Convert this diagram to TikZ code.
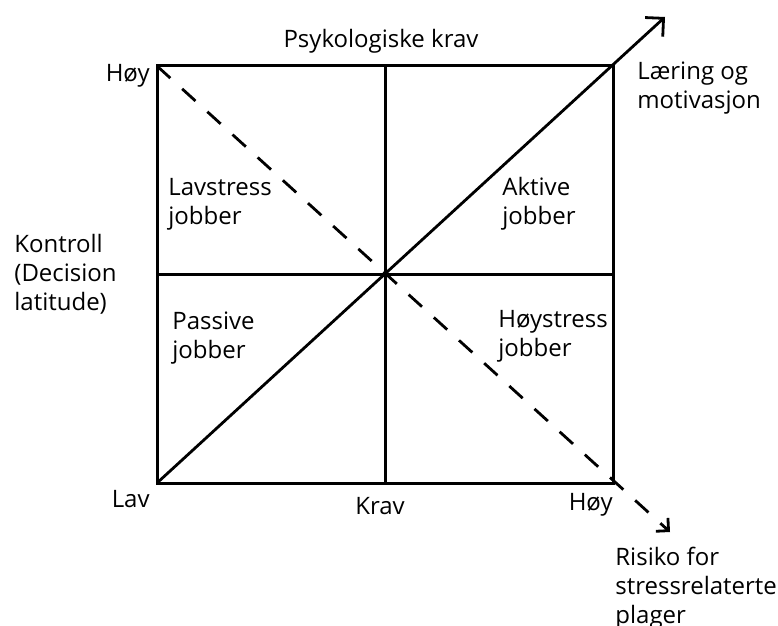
\documentclass[tikz,border=0pt]{standalone}
\usepackage{fontspec}
\setmainfont{Open Sans}
\usetikzlibrary{arrows.meta, positioning}
\tikzset{
    axis/.style={line width=1.5pt},
    trend/.style={line width=1.4pt, -{Straight Barb[length=6.5pt, width=13pt, line width=1.4pt]}},
    risk/.style={line width=1.4pt, dash pattern=on 9pt off 8pt, -{Straight Barb[length=4.5pt, width=9pt, line width=1.4pt]}},
    txt/.style={font=\fontsize{12}{14.5}\selectfont, inner sep=0pt},
    quadrant/.style={txt, align=left, anchor=base west}
}
\begin{document}
\begin{tikzpicture}[x=0.5pt, y=-0.5pt]
    \useasboundingbox (0,0) rectangle (778,626);
    % Square
    \coordinate (tl) at (157,66);
    \coordinate (tr) at (613,66);
    \coordinate (bl) at (157,483);
    \coordinate (br) at (613,483);
    \coordinate (mid) at (385,274.5);
    \draw [axis] (tl) rectangle (br);
    \draw [axis] (tl |- mid) -- (tr |- mid);
    \draw [axis] (mid |- tl) -- (mid |- bl);
    % Diagonals
    \coordinate (learnend) at (665,17);
    \coordinate (riskend) at (670,532);
    \draw [trend] (bl) -- (learnend);
    \draw [risk] (tl) -- (riskend);
    % Axis labels (multi-line nodes sit on their last line)
    \node (psyk) [txt, anchor=base] at (381,48) {Psykologiske krav};
    \node (hoyleft) [txt, anchor=base east] at (150,82) {Høy};
    \node (lav) [txt, anchor=base east] at (150,508) {Lav};
    \node (krav) [txt, anchor=base] at (380,515) {Krav};
    \node (hoyright) [txt, anchor=base east] at (613,510) {Høy};
    \node (kontroll) [quadrant] at (14,311) {Kontroll\\(Decision\\latitude)};
    \node (learn) [quadrant] at (637,109) {Læring og\\motivasjon};
    \node (riskl) [quadrant] at (615,623) {Risiko for\\stressrelaterte\\plager};
    % Quadrants
    \node (lavstress) [quadrant] at (168,225) {Lavstress\\jobber};
    \node (aktive) [quadrant] at (502,225) {Aktive\\jobber};
    \node (passive) [quadrant] at (172,358) {Passive\\jobber};
    \node (hoystress) [quadrant] at (498,357) {Høystress\\jobber};
\end{tikzpicture}
\end{document}
